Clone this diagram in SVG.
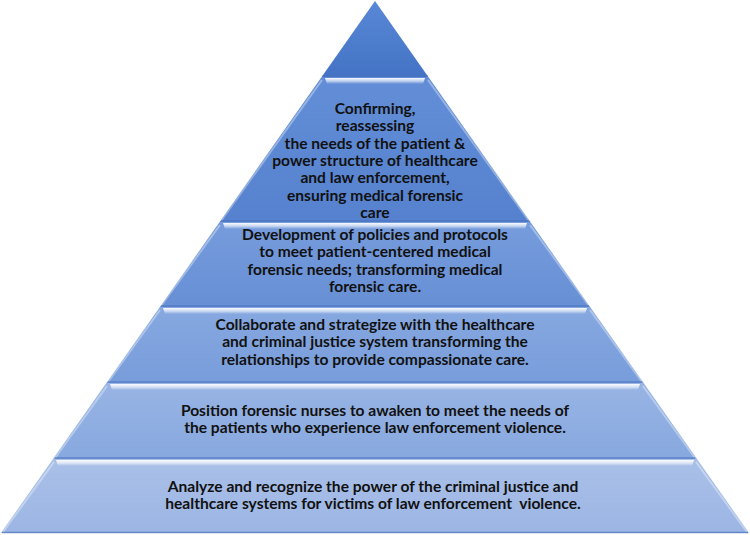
<svg xmlns="http://www.w3.org/2000/svg" width="750" height="535" viewBox="0 0 750 535">
<defs>
<linearGradient id="g1" x1="0" y1="0" x2="0" y2="1"><stop offset="0" stop-color="#5888D6"/><stop offset="1" stop-color="#4473C5"/></linearGradient>
<linearGradient id="g2" x1="0" y1="0" x2="0" y2="1"><stop offset="0" stop-color="#638ED7"/><stop offset="1" stop-color="#5581CE"/></linearGradient>
<linearGradient id="g3" x1="0" y1="0" x2="0" y2="1"><stop offset="0" stop-color="#769CDC"/><stop offset="1" stop-color="#678FD5"/></linearGradient>
<linearGradient id="g4" x1="0" y1="0" x2="0" y2="1"><stop offset="0" stop-color="#87A8E0"/><stop offset="1" stop-color="#789DDB"/></linearGradient>
<linearGradient id="g5" x1="0" y1="0" x2="0" y2="1"><stop offset="0" stop-color="#98B4E4"/><stop offset="1" stop-color="#87A8DF"/></linearGradient>
<linearGradient id="g6" x1="0" y1="0" x2="0" y2="1"><stop offset="0" stop-color="#A9C0E8"/><stop offset="1" stop-color="#9CB5E3"/></linearGradient>
<linearGradient id="hl" x1="0" y1="0" x2="0" y2="1"><stop offset="0" stop-color="#FFFFFF" stop-opacity="0.95"/><stop offset="0.5" stop-color="#FFFFFF" stop-opacity="0.6"/><stop offset="1" stop-color="#FFFFFF" stop-opacity="0"/></linearGradient>
</defs>
<style>
.t{font-family:Lato,"Liberation Sans",sans-serif;font-weight:bold;font-size:15.6px;fill:#111111;text-anchor:middle}
.hl{fill:url(#hl)}
.bot{stroke:#4A74BE;stroke-width:1.5;stroke-opacity:0.7;fill:none}
.side{stroke:#FFFFFF;stroke-opacity:0.35;stroke-width:2;fill:none}
</style>
<g id="layer1">
<polygon points="375,1 321.6,77 428.4,77" fill="url(#g1)"/>
<line class="bot" x1="322.5" y1="76" x2="427.5" y2="76"/>
</g>
<g id="layer2">
<polygon points="321.6,77 428.4,77 530.4,222 219.6,222" fill="url(#g2)"/>
<polygon class="hl" points="325,78 425,78 423,84 327,84"/>
<line class="side" x1="322" y1="80" x2="221" y2="221"/>
<line class="side" x1="428" y1="80" x2="529" y2="221"/>
<line class="bot" x1="221" y1="221" x2="529" y2="221"/>
<text class="t"><tspan x="375" y="114">Confirming,</tspan><tspan x="375" y="131.3">reassessing</tspan><tspan x="375" y="148.7">the needs of the patient &amp;</tspan><tspan x="375" y="166">power structure of healthcare</tspan><tspan x="375" y="183.3">and law enforcement,</tspan><tspan x="375" y="200.7">ensuring medical forensic</tspan><tspan x="375" y="218">care</tspan></text>
</g>
<g id="layer3">
<polygon points="219.6,222 530.4,222 590.1,307 159.9,307" fill="url(#g3)"/>
<polygon class="hl" points="223,223 527,223 525,229 225,229"/>
<line class="side" x1="220" y1="225" x2="161" y2="306"/>
<line class="side" x1="530" y1="225" x2="589" y2="306"/>
<line class="bot" x1="161" y1="306" x2="589" y2="306"/>
<text class="t"><tspan x="375" y="240">Development of policies and protocols</tspan><tspan x="375" y="257.3">to meet patient-centered medical</tspan><tspan x="375" y="274.7">forensic needs; transforming medical</tspan><tspan x="375" y="292">forensic care.</tspan></text>
</g>
<g id="layer4">
<polygon points="159.9,307 590.1,307 643.6,383 106.4,383" fill="url(#g4)"/>
<polygon class="hl" points="163,308 587,308 585,314 165,314"/>
<line class="side" x1="160" y1="310" x2="108" y2="382"/>
<line class="side" x1="590" y1="310" x2="642" y2="382"/>
<line class="bot" x1="108" y1="382" x2="642" y2="382"/>
<text class="t"><tspan x="375" y="330">Collaborate and strategize with the healthcare</tspan><tspan x="375" y="347.3">and criminal justice system transforming the</tspan><tspan x="375" y="364.6">relationships to provide compassionate care.</tspan></text>
</g>
<g id="layer5">
<polygon points="106.4,383 643.6,383 697,459 53,459" fill="url(#g5)"/>
<polygon class="hl" points="110,384 640,384 638,390 112,390"/>
<line class="side" x1="107" y1="386" x2="55" y2="458"/>
<line class="side" x1="643" y1="386" x2="695" y2="458"/>
<line class="bot" x1="55" y1="458" x2="695" y2="458"/>
<text class="t"><tspan x="375" y="416">Position forensic nurses to awaken to meet the needs of</tspan><tspan x="375" y="433.3">the patients who experience law enforcement violence.</tspan></text>
</g>
<g id="layer6">
<polygon points="53,459 697,459 749,533 1,533" fill="url(#g6)"/>
<polygon class="hl" points="56,460 694,460 692,466 58,466"/>
<line class="side" x1="54" y1="462" x2="3" y2="532"/>
<line class="side" x1="696" y1="462" x2="747" y2="532"/>
<line class="bot" x1="2" y1="532.5" x2="748" y2="532.5"/>
<text class="t" xml:space="preserve"><tspan x="373" y="492">Analyze and recognize the power of the criminal justice and</tspan><tspan x="373" y="509.3">healthcare systems for victims of law enforcement  violence.</tspan></text>
</g>
</svg>
